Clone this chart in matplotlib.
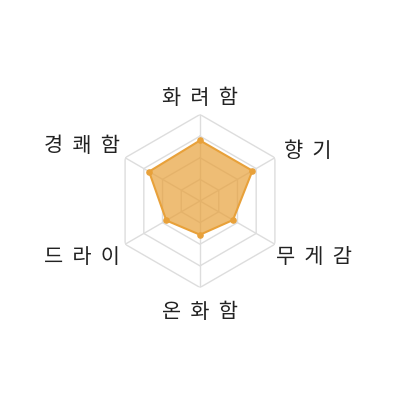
import numpy as np
import matplotlib
matplotlib.use("Agg")
import matplotlib.pyplot as plt

plt.rcParams['font.family'] = ['Noto Sans CJK KR', 'DejaVu Sans']

labels = ["화려함", "향기", "무게감", "온화함", "드라이", "경쾌함"]
values = [70, 70, 44, 39, 45, 68]
rings = [25, 50, 75, 100]
# label offsets from each outer vertex, in pixels (x, y up)
label_off = [(0, 16), (33, 7), (39, -13), (0, -24), (-43, -13), (-43, 12)]

LINE = "#E8A13A"
GRID = "#DDDDDD"

fig = plt.figure(figsize=(4, 4), dpi=100)
R = 86.5 / 400
ax = fig.add_axes([0.5 - R, 1 - 201 / 400 - R, 2 * R, 2 * R], projection="polar")
ax.set_theta_offset(np.pi / 2)
ax.set_theta_direction(-1)
ax.set_ylim(0, 100)
ax.grid(False)
ax.spines["polar"].set_visible(False)
ax.set_xticks([]); ax.set_yticks([])
ax.patch.set_alpha(0)

n = len(labels)
theta = np.arange(n) * 2 * np.pi / n
closed = np.append(theta, theta[0])

for r in rings:
    ax.plot(closed, [r] * (n + 1), color=GRID, lw=1.0, zorder=1)
for t in theta:
    ax.plot([t, t], [0, rings[-1]], color=GRID, lw=1.0, zorder=1)

vals = np.append(values, values[0])
ax.fill(closed, vals, color=LINE, alpha=0.7, lw=0, zorder=2)
ax.plot(closed, vals, color=LINE, lw=1.5, zorder=3)
ax.scatter(theta, values, s=14, color=LINE, zorder=4)

for t, lab, (dx, dy) in zip(theta, labels, label_off):
    ax.annotate("  ".join(lab), xy=(t, rings[-1]), xytext=(dx, dy),
                textcoords="offset pixels", ha="center", va="center",
                fontsize=15, color="#222222", annotation_clip=False)

fig.savefig("out.png", dpi=100, facecolor="white")
